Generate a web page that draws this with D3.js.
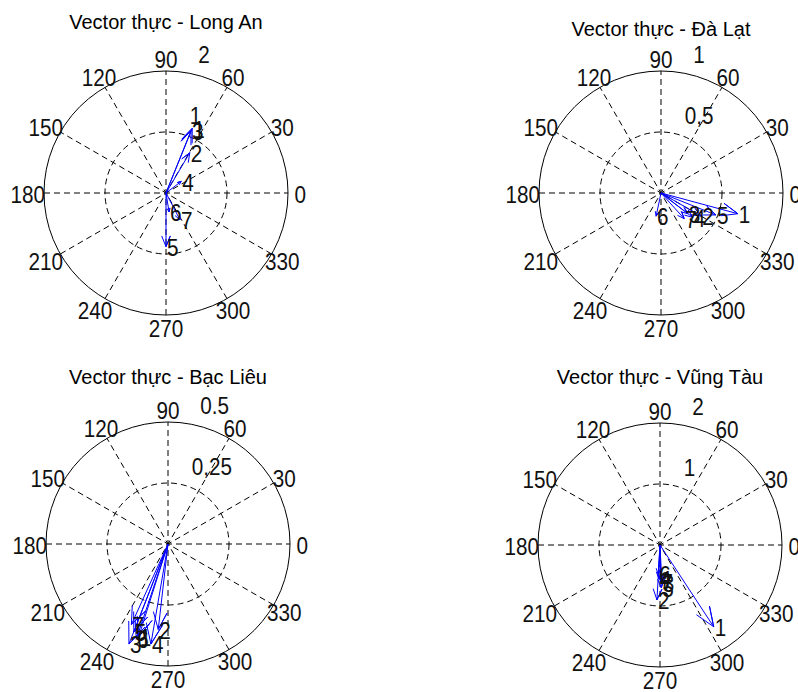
<!DOCTYPE html>
<html>
<head>
<meta charset="utf-8">
<title>Vector thực</title>
<script src="https://d3js.org/d3.v7.min.js"></script>
<style>
  body { margin: 0; background: #fff; }
</style>
</head>
<body>
<div id="chart"></div>
<script>
// Data
var stations = ["Long An", "Đà Lạt", "Bạc Liêu", "Vũng Tàu"];
var vecLabels = ["1", "2", "3", "4", "5", "6", "7"];

// vector components (u = east, v = north)
var longAnU = [0.43, 0.39, 0.41, 0.25, 0.00, 0.05, 0.23];
var longAnV = [1.06, 0.66, 1.02, 0.19, -0.88, -0.31, -0.44];
var daLatU = [0.63, 0.33, 0.22, 0.26, 0.45, -0.04, 0.19];
var daLatV = [-0.17, -0.19, -0.17, -0.20, -0.18, -0.19, -0.21];
var bacLieuU = [-0.12, -0.04, -0.16, -0.07, -0.14, -0.13, -0.15];
var bacLieuV = [-0.38, -0.35, -0.41, -0.41, -0.36, -0.39, -0.33];
var vungTauU = [0.88, -0.05, 0.03, -0.02, 0.02, -0.03, 0.01];
var vungTauV = [-1.34, -0.90, -0.62, -0.55, -0.70, -0.48, -0.60];

// radial ticks
var rMax = [2, 1, 0.5, 2];
var rTicks = [[1, 2], [0.5, 1], [0.25, 0.5], [1, 2]];
var rTickText = [["1", "2"], ["0,5", "1"], ["0,25", "0.5"], ["1", "2"]];
var angleTicks = [0, 30, 60, 90, 120, 150, 180, 210, 240, 270, 300, 330];

//Setup
var svg = d3.select("#chart").append("svg")
	.attr("width", 798)
	.attr("height", 692);

var R = 122;
var panels = [
	{cx: 166, cy: 193, ty: 22, u: longAnU, v: longAnV},
	{cx: 661, cy: 193, ty: 29, u: daLatU, v: daLatV},
	{cx: 168, cy: 544, ty: 377, u: bacLieuU, v: bacLieuV},
	{cx: 660, cy: 545, ty: 377, u: vungTauU, v: vungTauV}
];

var tickFont = "'Liberation Sans', Arial, sans-serif";

function smallText(g, x, y, txt, anchor, base) {
	g.append("text")
		.attr("transform", "translate(" + x + "," + y + ") scale(0.9,1)")
		.attr("text-anchor", anchor)
		.attr("dy", base)
		.attr("font-family", tickFont)
		.attr("font-size", "23px")
		.attr("fill", "#111")
		.text(txt);
}

panels.forEach(function(p, k) {
	var g = svg.append("g").attr("transform", "translate(" + p.cx + "," + p.cy + ")");
	var rs = d3.scaleLinear().domain([0, rMax[k]]).range([0, R]);
	var rad = function(d) { return d * Math.PI / 180; };

	// spokes
	g.selectAll("line.spoke")
		.data(angleTicks.slice(0, 6))
		.enter().append("line")
		.attr("x1", function(d) { return -R * Math.cos(rad(d)); })
		.attr("y1", function(d) { return R * Math.sin(rad(d)); })
		.attr("x2", function(d) { return R * Math.cos(rad(d)); })
		.attr("y2", function(d) { return -R * Math.sin(rad(d)); })
		.attr("stroke", "#000")
		.attr("stroke-width", 1)
		.attr("stroke-dasharray", "6,4");

	// circles
	g.selectAll("circle.ring")
		.data(rTicks[k])
		.enter().append("circle")
		.attr("r", function(d) { return rs(d); })
		.attr("fill", "none")
		.attr("stroke", "#000")
		.attr("stroke-width", 1)
		.attr("stroke-dasharray", function(d, i) { return i == rTicks[k].length - 1 ? null : "6,4"; });

	// angle labels
	angleTicks.forEach(function(a) {
		var rt = R * 1.1;
		var x = rt * Math.cos(rad(a));
		// wide labels on the left sit a bit further out
		if (Math.cos(rad(a)) < -0.5) x -= 4;
		smallText(g, x, -rt * Math.sin(rad(a)), String(a), "middle", "0.42em");
	});

	// radial labels at 82 deg
	rTicks[k].forEach(function(t, i) {
		var rr = rs(t + rTicks[k][0] / 20);
		smallText(g, rr * Math.cos(rad(82)) + 9, -rr * Math.sin(rad(82)), "\u00a0" + rTickText[k][i], "start", "-0.25em");
	});

	// compass arrows
	var arrow = [[0, 0], [1, 0], [0.8, 0.08], [1, 0], [0.8, -0.08]];
	var line = d3.line()
		.x(function(d) { return rs(d[0]); })
		.y(function(d) { return -rs(d[1]); });
	p.u.forEach(function(u, i) {
		var v = p.v[i];
		var pts = arrow.map(function(a) { return [a[0] * u - a[1] * v, a[0] * v + a[1] * u]; });
		g.append("path")
			.attr("d", line(pts))
			.attr("fill", "none")
			.attr("stroke", "#0000ff")
			.attr("stroke-width", 1);
	});

	// vector labels
	p.u.forEach(function(u, i) {
		smallText(g, rs(u) + 1, -rs(p.v[i]), vecLabels[i], "start", "0.4em");
	});

	// title
	svg.append("text")
		.attr("x", p.cx)
		.attr("y", p.ty)
		.attr("dy", "0.35em")
		.attr("text-anchor", "middle")
		.attr("font-family", tickFont)
		.attr("font-size", "20px")
		.attr("fill", "#000")
		.text("Vector thực - " + stations[k]);
});
</script>
</body>
</html>
